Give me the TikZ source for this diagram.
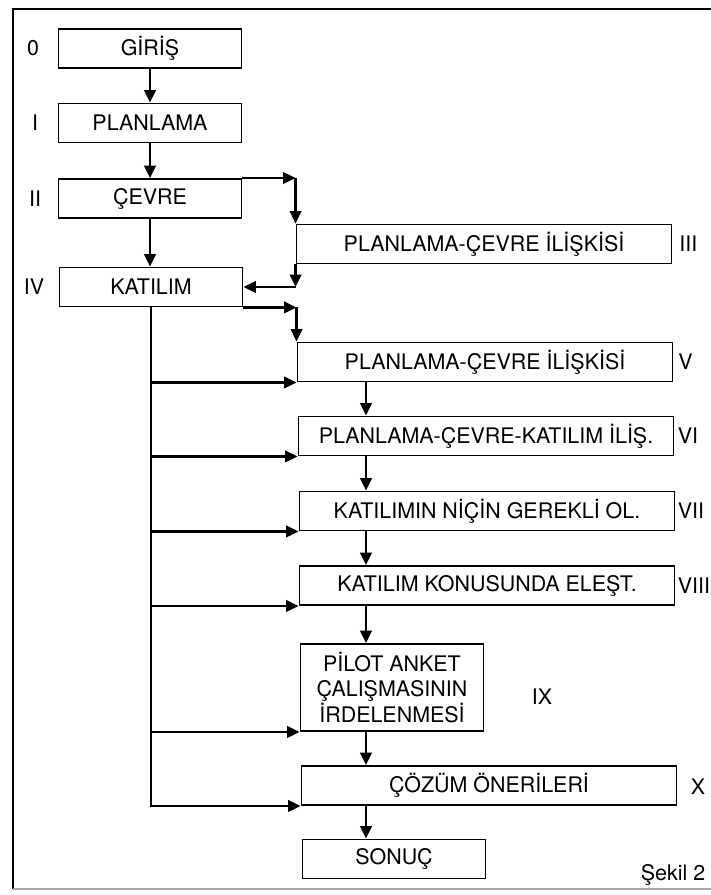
\documentclass[tikz,border=0pt]{standalone}
\usepackage{fontspec}
\setmainfont{TeX Gyre Heros}
\usetikzlibrary{arrows.meta, positioning, calc}

\begin{document}
\begin{tikzpicture}[
    stage/.style={draw, line width=1.1pt, minimum width=3.66cm, minimum height=0.78cm, inner sep=2pt},
    widestage/.style={stage, minimum width=7.5cm},
    arr/.style={-{Triangle[length=7pt, width=6.5pt]}, line width=1.2pt},
    font=\fontsize{12.2}{13.7}\selectfont
]
    \useasboundingbox (0, 0) rectangle (14.2, -17.9);

    % Frame
    \draw[line width=1.1pt] (14.4, -0.18) -- (0.26, -0.18) -- (0.26, -17.78);
    \draw[line width=0.6pt, black!35] (0.26, -17.78) -- (14.4, -17.78);

    % Stages
    \node[stage] (giris) at (3.0, -0.97) {GİRİŞ};
    \node[stage] (plan) at (3.0, -2.46) {PLANLAMA};
    \node[stage] (cevre) at (3.0, -3.97) {ÇEVRE};
    \node[stage] (katilim) at (3.02, -5.74) {KATILIM};
    \node[widestage] (rel3) at (9.68, -4.88) {PLANLAMA-ÇEVRE İLİŞKİSİ};
    \node[widestage] (rel5) at (9.70, -7.24) {PLANLAMA-ÇEVRE İLİŞKİSİ};
    \node[widestage] (rel6) at (9.72, -8.72) {PLANLAMA-ÇEVRE-KATILIM İLİŞ.};
    \node[widestage] (nec7) at (9.74, -10.22) {KATILIMIN NİÇİN GEREKLİ OL.};
    \node[widestage] (crit8) at (9.74, -11.71) {KATILIM KONUSUNDA ELEŞT.};
    \node[stage, align=center, minimum height=1.74cm] (pilot) at (7.84, -13.75) {PİLOT ANKET\\ÇALIŞMASININ\\İRDELENMESİ};
    \node[widestage] (sol) at (9.78, -15.71) {ÇÖZÜM ÖNERİLERİ};
    \node[stage] (sonuc) at (7.88, -17.18) {SONUÇ};

    % Numbers
    \node (lab0) at (0.66, -0.97) {0};
    \node (lab1) at (0.70, -2.46) {I};
    \node (lab2) at (0.70, -3.97) {II};
    \node (lab4) at (0.68, -5.74) {IV};
    \node[anchor=west, inner sep=0pt] (lab3) at (13.58, -4.88) {III};
    \node[anchor=west, inner sep=0pt] (lab5) at (13.56, -7.24) {V};
    \node[anchor=west, inner sep=0pt] (lab6) at (13.55, -8.72) {VI};
    \node[anchor=west, inner sep=0pt] (lab7) at (13.55, -10.22) {VII};
    \node[anchor=west, inner sep=0pt] (lab8) at (13.55, -11.71) {VIII};
    \node (lab9) at (10.84, -13.94) {IX};
    \node (lab10) at (13.96, -15.74) {X};
    \node (fig) at (13.46, -17.5) {Şekil 2};

    % Arrows
    \draw[arr] (giris) -- (plan);
    \draw[arr] (plan) -- (cevre);
    \draw[arr] (cevre.south) -- (cevre.south |- katilim.north);
    \coordinate (c1) at (rel3.north west |- cevre.north east);
    \draw[arr] (cevre.north east) -- (c1);
    \draw[arr] (c1) -- (rel3.north west);
    \coordinate (c2) at (rel3.south west |- katilim.east);
    \draw[arr] (rel3.south west) -- (c2);
    \draw[arr] (c2) -- (katilim.east);
    \coordinate (c3) at (rel5.north west |- katilim.south east);
    \draw[arr] (katilim.south east) -- (c3);
    \draw[arr] (c3) -- (rel5.north west);

    % Right chain
    \coordinate (spine) at (7.32, 0);
    \foreach \a/\b in {rel5/rel6, rel6/nec7, nec7/crit8, crit8/pilot, pilot/sol, sol/sonuc}
        \draw[arr] (\a.south -| spine) -- (\b.north -| spine);

    % Trunk from KATILIM
    \foreach \b in {rel5, rel6, nec7, crit8, pilot}
        \draw[arr] (katilim.south |- \b.south west) -- (\b.south west);
    \draw[arr] (katilim.south) |- (sol.south west);
\end{tikzpicture}
\end{document}
